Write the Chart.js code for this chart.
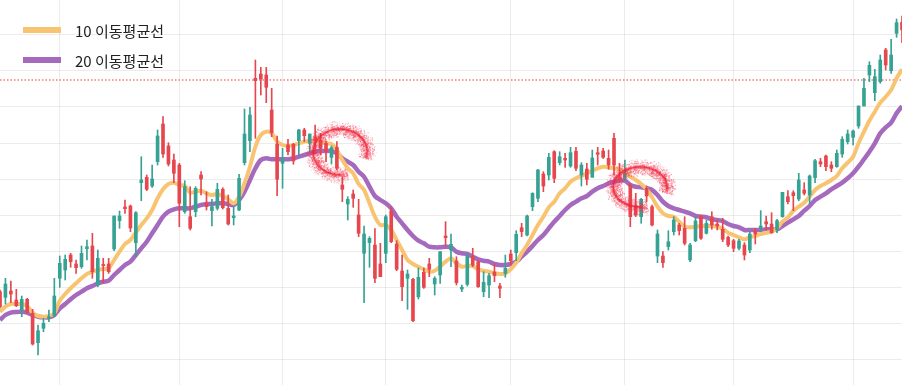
<!DOCTYPE html>
<html><head><meta charset="utf-8">
<script src="https://cdn.jsdelivr.net/npm/chart.js@4/dist/chart.umd.min.js"></script>
<style>
html,body{margin:0;padding:0;background:#fff;}
#wrap{position:relative;width:902px;height:385px;overflow:hidden;background:#fff;}
#c{position:absolute;left:0;top:0;}
#legend{position:absolute;left:23px;top:15px;font-family:"Noto Sans CJK KR","Noto Sans",sans-serif;font-size:15px;color:#222;}
.item{display:flex;align-items:center;height:30px;white-space:nowrap;}
.sw{width:38px;height:6px;margin-right:14px;}
</style></head>
<body><div id="wrap"><canvas id="c" width="902" height="385"></canvas><div id="legend"></div></div>
<script>
// ---- data ----
const monthNames = ['1월','2월','3월','4월','5월','6월','7월','8월','9월'];
const sessionsPerMonth = [11, 22, 19, 19, 23, 21, 20, 22, 10];

const open = [
104.3, 98.7, 105, 96, 86, 96.7, 82.7, 53.3, 67.7, 77.7,
80, 117.7, 126, 141, 132, 129.3, 147.3, 150, 111, 131.3,
132, 147, 175.3, 189, 190, 153.3, 213.3, 218.7, 210, 234.3,
272, 250, 236, 231, 184.3, 179.3, 184.3, 221, 192.7, 185.3,
187.7, 206.7, 187.7, 178.3, 186, 233.3, 255.3, 317.7, 322, 321,
286, 252, 232.7, 251, 251.7, 255.3, 266, 252.7, 259.3, 256,
252.7, 238.7, 248.7, 211, 192, 202, 181, 142.7, 153.3, 151,
132, 142.7, 185, 152, 125, 117.7, 116.7, 99.3, 123.7, 132,
112, 121, 160, 146, 135, 107, 111.7, 139.3, 134.3, 104.3,
111, 124, 110, 122.7, 142, 143.3, 168.3, 161, 189.3, 197.7,
222, 221, 244.3, 233.3, 237.7, 230, 244.7, 221, 227, 218.7,
243.3, 245, 237.7, 257.7, 219.3, 217.7, 211, 190, 179.3, 207.7,
189.3, 140, 140, 149.3, 164.3, 171, 167.7, 136, 155.3, 180,
162.7, 179.3, 172, 166.7, 158.7, 155.3, 147.7, 151, 146, 165.3,
168.3, 174.3, 172, 166, 179.3, 199.3, 203.3, 197, 206, 201,
218.3, 234.3, 240, 231, 229.3, 242, 254.3, 258.7, 270, 290,
321, 303.3, 314.3, 346, 325.3, 362.7, 373.7
];
const high = [
106, 117.7, 115, 106.7, 100, 97.7, 86.7, 71, 77.7, 86,
117.7, 140, 141, 142.7, 136, 150, 156, 162.7, 146, 137.7,
137.7, 180, 185, 196, 191, 184.3, 239.3, 221, 231, 266,
279.3, 253.3, 242, 232.7, 215.3, 209.3, 209.3, 224.3, 204.3, 196.7,
212.7, 208.3, 201, 189.3, 221.7, 287, 288.7, 336, 328.7, 328.7,
307.7, 260, 247.7, 256.7, 252.7, 266.7, 267.7, 262, 271, 262.7,
254.3, 250, 254.3, 219.3, 199.3, 206, 196.7, 170, 159.3, 167.3,
152.7, 181, 189.3, 155.3, 141, 126, 117.7, 128, 128, 137.7,
119.3, 144.3, 174.3, 162, 139.3, 111, 142, 147.7, 136, 124.3,
122.7, 132, 112.7, 141, 146, 165.3, 172.7, 181, 203.3, 226.7,
224.3, 242.7, 245.3, 244.3, 242.7, 248.7, 248.7, 233.3, 232.7, 246,
248.7, 247.7, 246, 262.7, 232.7, 236, 212.7, 202.7, 197.7, 210,
191, 166, 144.3, 165.3, 179.3, 172.7, 179.3, 152.7, 179.3, 181,
176, 184.3, 176, 177.7, 160, 156.7, 156.7, 153.3, 164.3, 167.7,
185.3, 180, 183.3, 176.7, 203.7, 205.3, 205.3, 222.7, 213.3, 221,
236.7, 237.7, 241, 234.3, 246, 259.3, 266, 266, 290, 317.7,
334.3, 326.7, 341, 347.7, 356.7, 377, 380
];
const low = [
88, 92, 93.3, 89.3, 79.3, 82.7, 51, 41, 64.3, 74.3,
79.3, 108.7, 116, 128.7, 122.7, 127.7, 136, 117.7, 109.3, 113.3,
122.7, 145.3, 167.7, 182.7, 164.3, 139.3, 195.3, 205.3, 208.7, 231,
238.7, 230, 213.3, 169.3, 182.7, 166, 179.3, 201, 186, 170,
186, 187, 171, 171, 185.3, 231, 244.3, 257.7, 301, 293.3,
259.3, 200.3, 207.7, 241, 231.7, 241, 254.3, 244.3, 242.7, 241,
234.3, 232, 226, 194.3, 176, 188.7, 159.3, 93.3, 128.7, 113.3,
119.3, 133.3, 153.3, 125.3, 95.3, 86.7, 74.3, 97, 107.7, 119.3,
101, 112.7, 150, 129.3, 111, 104.3, 110, 129.3, 108.7, 99.3,
98.3, 114.3, 98.3, 118.7, 131, 135.3, 159.3, 160, 185.3, 194.3,
204.3, 216, 213.3, 231, 228.7, 228.7, 225.3, 210, 211, 218.7,
231, 237.7, 226.7, 221, 214.3, 215.3, 169.3, 179.3, 172.7, 194.3,
170, 133.3, 128.7, 146, 161, 161, 151, 134.3, 154.3, 156.7,
162, 166.7, 166, 154.3, 149.3, 144.3, 146, 136, 143.3, 152,
164.3, 166, 162.7, 163.3, 178.7, 192, 185.3, 195.3, 201, 192,
213.3, 229.3, 225.3, 224.3, 228.7, 238.7, 252, 251, 267.7, 290,
314.3, 295.3, 312.7, 326, 322.7, 358.7, 353.3
];
const close = [
89.3, 112, 102, 90.3, 96.7, 83.7, 52, 65.3, 72.7, 79.3,
100, 132.7, 136.7, 134.3, 128.3, 142.7, 149.3, 124.3, 137.7, 130.3,
124.3, 180, 180, 187.3, 168, 183.3, 216, 206.7, 217, 260,
242, 232, 222.7, 192.7, 209.3, 167.7, 207.7, 217, 189.3, 189.3,
206.7, 188.3, 172, 180, 217.7, 262, 281, 315.3, 317, 308.7,
263.3, 216.7, 236.7, 244.3, 235, 266, 260.3, 262, 256, 247.7,
244.3, 248.3, 227.7, 206.7, 196.7, 197.7, 162.7, 162, 157.7, 117.7,
119.3, 179.3, 154.3, 126.7, 109.3, 122, 75.3, 118.7, 108.7, 126.7,
117.7, 144.3, 158.3, 151.7, 113.3, 108.7, 140, 131, 109.3, 113.7,
120.3, 120.3, 107.7, 127.7, 135.3, 161.7, 164.3, 180, 202.7, 226,
210, 238.7, 217.7, 239.3, 236, 243.3, 227.7, 231, 216.7, 238,
241.7, 238.7, 231, 231, 217.7, 222.7, 179.3, 181, 196.7, 200,
171, 162, 133.3, 154.3, 176, 165.3, 152.7, 151, 175, 157.7,
172.7, 171, 170, 156.7, 151, 147.7, 155, 141, 162, 162,
170, 172, 163.3, 175.3, 203.7, 194.3, 200.3, 216, 202.7, 220,
235.3, 232, 229.3, 227.7, 242.7, 256.7, 262, 265, 290, 307.7,
330.7, 319.3, 336, 331, 341, 373.3, 366
];
const ma10 = [
84.3, 89.3, 92, 92, 92, 90, 83.3, 80, 79.3, 80,
82.7, 95.3, 102, 107.7, 112.7, 117.7, 122, 124.3, 126, 127,
127.7, 136, 144.3, 152, 156, 163.3, 171, 177.7, 186, 197.7,
206.7, 212, 213.3, 211, 210, 203.3, 204.3, 205.3, 202.7, 201,
202, 200, 196.7, 192.7, 199.3, 212.7, 229.3, 249.3, 261, 264.3,
262.7, 254.3, 251, 250, 251, 252.7, 254.3, 255, 255.3, 254.3,
252.7, 252, 246, 236, 227.7, 222.7, 212, 206, 192.7, 179.3,
171, 171, 166, 156, 146, 136, 132, 129.3, 126.7, 124.3,
125.3, 129.3, 134.3, 137.7, 132.7, 129.3, 130, 130, 126.7, 125.3,
124.3, 122.7, 122, 122.7, 126.7, 133.3, 142.7, 151, 161, 171,
179.3, 188.7, 194.3, 202.7, 207.7, 214.3, 217.7, 220, 222.7, 225.3,
227.7, 229.3, 228.7, 227.7, 226.7, 224.3, 219.3, 216, 212, 206.7,
198.7, 189.3, 182.7, 180, 179.3, 174.3, 169.3, 168.7, 169.3, 170,
170, 170, 169.3, 167.2, 163.3, 161, 158.7, 156.7, 158.7, 160,
162, 163.3, 164.3, 167.7, 174.3, 178.7, 185.3, 189.3, 193.3, 199.3,
206, 210, 212.7, 216, 220, 227.7, 233.3, 239.3, 252.7, 264.3,
275.3, 284.3, 293.3, 299.3, 306, 317.7, 326.7
];
const ma20 = [
76, 81, 83.3, 84, 84.3, 83.3, 81, 79.3, 78.7, 78.7,
81, 87.7, 92, 96.7, 101, 104.3, 107.7, 110, 112.7, 114.3,
115.3, 121, 126, 131, 134.3, 141, 147.7, 154.3, 162.7, 171,
179.3, 184.3, 186.7, 187.7, 187.7, 187.7, 189.3, 191, 192, 192,
192.7, 192.7, 192, 191, 196, 204.3, 216, 227.7, 236, 237.7,
236.7, 236.7, 236.7, 236.7, 237.7, 239.3, 241, 242.7, 244.3, 245,
245, 245, 242.7, 237.7, 234.3, 231, 224.3, 219.3, 209.3, 200,
196, 192.7, 187.7, 179.3, 172.7, 166, 160, 155.3, 152.7, 149.3,
148.7, 148.7, 149.3, 148.7, 144.3, 142.7, 142, 139.3, 136.7, 135.3,
134.3, 132, 131, 131, 132, 134.3, 139.3, 144.3, 150, 156,
161, 167.7, 174.3, 180, 186, 191, 194.3, 197.7, 200, 204.3,
207.7, 210, 212.7, 214.3, 215.3, 215.3, 211, 209.3, 208.7, 207.7,
206, 201, 194.3, 190, 187.7, 186, 184.3, 182.7, 180, 179.3,
178.7, 176.7, 176, 175, 172, 170, 168.7, 166, 166, 166,
166, 166.7, 166.7, 166.7, 170, 173.3, 176.7, 180, 185.3, 190,
196, 199.3, 202.7, 206.7, 210, 213.3, 217.7, 222.7, 229.3, 236.7,
244.3, 252.7, 262.7, 268.7, 273.3, 282.7, 290
];
const resistanceLevel = 316;
const highlightAt = [ { index: 62.6, value: 244 }, { index: 117.8, value: 209 } ];
const seriesNames = ['10 이동평균선', '20 이동평균선'];

// ---- build ----
const labels = [];
const monthStart = new Set();
sessionsPerMonth.forEach((n, m) => {
  for (let d = 1; d <= n; d++) {
    if (d === 1 && m > 0) monthStart.add(labels.length);
    labels.push(monthNames[m] + ' ' + d + '거래일');
  }
});

const UP = '#36a293', DOWN = '#e6474e';
const candleColors = open.map((o, i) => close[i] >= o ? UP : DOWN);
const MA10C = '#f8c471', MA20C = '#a569bd';
const GRID = 'rgba(0,0,0,0.075)';

function frac(v) { return v - Math.floor(v); }

const highlightPlugin = {
  id: 'highlight',
  afterDatasetsDraw(chart, args, opts) {
    const {ctx, scales: {x, y}} = chart;
    ctx.save();
    highlightAt.forEach((h, k) => {
      const cx = x.getPixelForValue(h.index);
      const cy = y.getPixelForValue(h.value);
      const rx = opts.rx[k], ry = opts.ry[k];
      const a0 = 1.3, a1 = Math.PI * 2 + 0.3;
      // speckled spray halo
      const N = 2600;
      for (let t = 0; t < N; t++) {
        const a = a0 + (a1 - a0) * frac(Math.sin(t * 91.17 + k) * 9871.31);
        const r1 = frac(Math.sin(t * 12.9898 + k * 7.1) * 43758.5453);
        const r2 = frac(Math.sin(t * 78.233 + k * 3.3) * 12345.678);
        const r3 = frac(Math.sin(t * 39.425 + k * 1.7) * 24634.634);
        const off = (r1 + r3 - 1) * 9;
        const px = cx + (rx + off) * Math.cos(a);
        const py = cy + (ry + off) * Math.sin(a);
        ctx.fillStyle = 'rgba(242,60,85,' + (0.15 + r2 * 0.35).toFixed(2) + ')';
        ctx.fillRect(px, py, 1, 1);
      }
      ctx.lineCap = 'round';
      ctx.strokeStyle = 'rgba(240,40,60,0.35)';
      ctx.lineWidth = 3.5;
      ctx.beginPath();
      ctx.ellipse(cx, cy, rx, ry, 0, a0 + 0.15, a1 - 0.1);
      ctx.stroke();
      ctx.strokeStyle = 'rgba(236,30,50,0.7)';
      ctx.lineWidth = 1.4;
      ctx.beginPath();
      ctx.ellipse(cx, cy, rx, ry, 0, a0 + 0.25, a1 - 0.2);
      ctx.stroke();
    });
    ctx.restore();
  }
};

new Chart(document.getElementById('c'), {
  type: 'bar',
  data: {
    labels,
    datasets: [
      { type: 'line', label: 'resistance', data: labels.map(() => resistanceLevel),
        borderColor: '#e53935', borderWidth: 1.2, borderDash: [1.5, 2], pointRadius: 0, order: 5 },
      { type: 'line', label: seriesNames[0], data: ma10, borderColor: MA10C, borderWidth: 4,
        pointRadius: 0, tension: 0.3, order: 3 },
      { type: 'line', label: seriesNames[1], data: ma20, borderColor: MA20C, borderWidth: 4.5,
        pointRadius: 0, tension: 0.3, order: 4 },
      { label: 'wick', data: low.map((l, i) => [l, high[i]]), backgroundColor: candleColors,
        barThickness: 1, grouped: false, order: 2, minBarLength: 1 },
      { label: 'body', data: open.map((o, i) => [o, close[i]]), backgroundColor: candleColors,
        barThickness: 3, grouped: false, order: 1, minBarLength: 1.2 }
    ]
  },
  options: {
    responsive: false,
    animation: false,
    devicePixelRatio: 1,
    layout: { padding: 0 },
    plugins: {
      legend: { display: false },
      tooltip: { enabled: false },
      highlight: { rx: [27, 27], ry: [23, 20] }
    },
    scales: {
      x: {
        type: 'category', offset: false,
        grid: { offset: false, drawTicks: false, color: (c) => monthStart.has(c.index) ? GRID : 'rgba(0,0,0,0)' },
        ticks: { display: false, autoSkip: false },
        border: { display: false }
      },
      y: {
        min: 11, max: 396,
        grid: { drawTicks: false, color: GRID },
        ticks: { display: false, stepSize: 36.13, includeBounds: false },
        border: { display: false }
      }
    }
  },
  plugins: [highlightPlugin]
});

// HTML legend
const lg = document.getElementById('legend');
[[seriesNames[0], MA10C], [seriesNames[1], MA20C]].forEach(([t, c]) => {
  const d = document.createElement('div'); d.className = 'item';
  const s = document.createElement('span'); s.className = 'sw'; s.style.background = c;
  const tx = document.createElement('span'); tx.textContent = t;
  d.appendChild(s); d.appendChild(tx); lg.appendChild(d);
});
</script>
</body></html>
